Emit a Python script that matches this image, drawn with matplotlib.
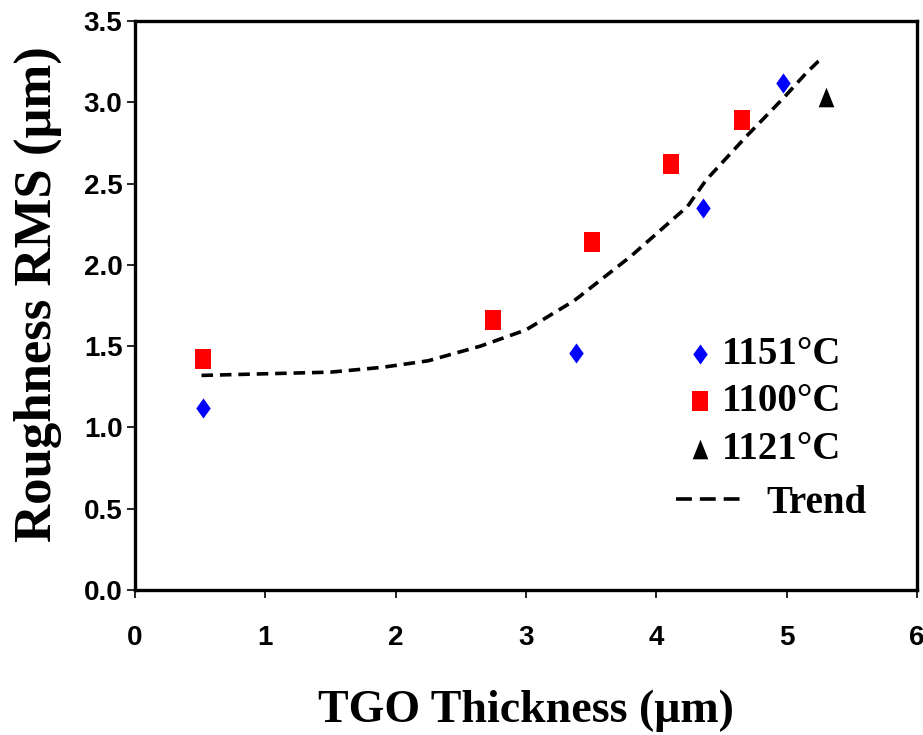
import matplotlib
matplotlib.use("Agg")
import matplotlib.pyplot as plt
from matplotlib.lines import Line2D

# data
x_1151 = [0.52, 3.38, 4.36, 4.97]
y_1151 = [1.12, 1.46, 2.35, 3.12]

x_1100 = [0.52, 2.75, 3.51, 4.11, 4.66]
y_1100 = [1.42, 1.66, 2.14, 2.62, 2.89]

x_1121 = [5.30]
y_1121 = [3.03]

trend_x = [0.51, 1.0, 1.5, 1.9, 2.25, 2.65, 3.0, 3.37, 3.8, 4.24, 4.38, 4.69, 4.98, 5.15, 5.24, 5.28]
trend_y = [1.32, 1.33, 1.34, 1.37, 1.41, 1.50, 1.60, 1.78, 2.05, 2.36, 2.52, 2.79, 3.03, 3.18, 3.25, 3.27]

x_ticks = [0, 1, 2, 3, 4, 5, 6]
y_ticks = [0.0, 0.5, 1.0, 1.5, 2.0, 2.5, 3.0, 3.5]

# taller-than-wide marker shapes
rect = [(-0.75, -1), (0.75, -1), (0.75, 1), (-0.75, 1), (-0.75, -1)]
diamond = [(0, -1), (0.72, 0), (0, 1), (-0.72, 0), (0, -1)]
tri = [(-0.8, -1), (0.8, -1), (0, 1), (-0.8, -1)]

serif = 'Liberation Serif'
sans = 'Liberation Sans'

fig = plt.figure(figsize=(9.23, 7.35), dpi=100)
ax = fig.add_axes([0.1463, 0.1973, 0.8472, 0.7741])

p1 = ax.scatter(x_1151, y_1151, marker=diamond, s=210, color='#0000ff', linewidths=0, label='1151\u00b0C', zorder=3)
p2 = ax.scatter(x_1100, y_1100, marker=rect, s=210, color='#ff0000', linewidths=0, label='1100\u00b0C', zorder=3)
p3 = ax.scatter(x_1121, y_1121, marker=tri, s=200, color='black', linewidths=0, label='1121\u00b0C', zorder=3)
ax.plot(trend_x, trend_y, color='black', lw=2.6, dashes=(3.2, 1.9), label='Trend', zorder=2)

ax.set_xlim(0, 6)
ax.set_ylim(0, 3.5)
ax.set_xticks(x_ticks)
ax.set_yticks(y_ticks)
ax.set_xticklabels([str(v) for v in x_ticks], fontfamily=sans, fontweight='bold', fontsize=20)
ax.set_yticklabels(['%.1f' % v for v in y_ticks], fontfamily=sans, fontweight='bold', fontsize=20)
ax.tick_params(axis='both', direction='out', length=6, width=1.2, color='black')
ax.tick_params(axis='x', pad=19)
ax.tick_params(axis='y', pad=3)

for sp in ax.spines.values():
    sp.set_linewidth(2.4)

ax.set_xlabel('TGO Thickness (\u03bcm)', fontfamily=serif, fontweight='bold', fontsize=33, labelpad=28)
ax.set_ylabel('Roughness RMS (\u03bcm)', fontfamily=serif, fontweight='bold', fontsize=38)
ax.yaxis.set_label_coords(-0.093, 0.52)

legfont = {'family': serif, 'weight': 'bold', 'size': 28}
leg1 = ax.legend(handles=[p1, p2, p3], loc='upper left', bbox_to_anchor=(0.7072, 0.4464),
                 frameon=False, prop=legfont, handlelength=0.6, handletextpad=0.265,
                 labelspacing=0.27, borderpad=0, borderaxespad=0)
ax.add_artist(leg1)
# legend sample uses longer dashes, as in the reference
trend_key = Line2D([], [], color='black', lw=2.6, dashes=(4.4, 2.2), label='Trend')
ax.legend(handles=[trend_key], loc='upper left', bbox_to_anchor=(0.6918, 0.1845),
          frameon=False, prop=legfont, handlelength=1.645, handletextpad=0.67,
          borderpad=0, borderaxespad=0)

fig.savefig('out.png', dpi=100)
